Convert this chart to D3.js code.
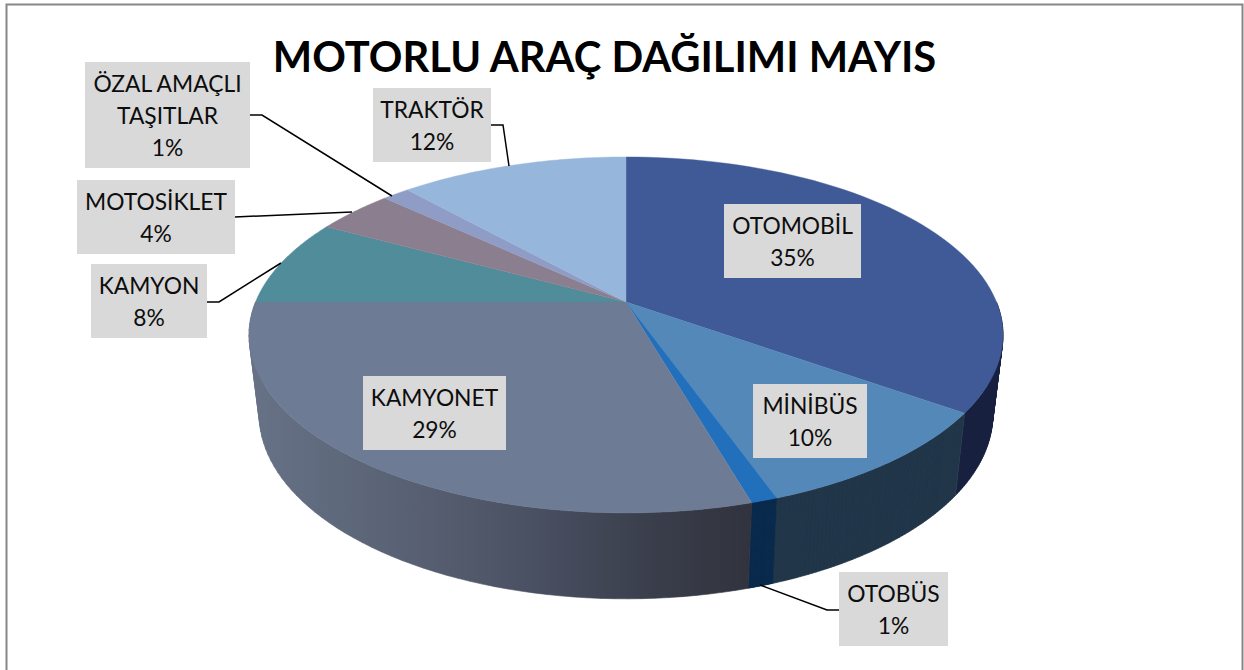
<!DOCTYPE html>
<html><head><meta charset="utf-8">
<script src="https://cdn.jsdelivr.net/npm/d3@7/dist/d3.min.js"></script>
<style>html,body{margin:0;padding:0;background:#fff;overflow:hidden}svg{display:block}text{font-family:Lato,Carlito,sans-serif}</style>
</head><body><svg id="c" width="1244" height="670"></svg>
<script>
const title = "MOTORLU ARAÇ DAĞILIMI MAYIS";
const categories = ["OTOMOBİL","MİNİBÜS","OTOBÜS","KAMYONET","KAMYON","MOTOSİKLET","ÖZAL AMAÇLI TAŞITLAR","TRAKTÖR"];
const percentLabels = [35,10,1,29,8,4,1,12];
const sliceShares = [34.8,9.75,0.95,29.5,7.9,4.0,1.4,11.7];
const topColors = ["#3f5a97","#5388b8","#2270bc","#6d7b94","#508c9a","#8b7e8f","#8f9cc6","#97b6db"];
const wallColors = ["#18223f","#213649","#0b2c4e",null];

// layout
const labelLayout = [
 {lines:["OTOMOBİL"],x:724,y:204,w:137,h:74},
 {lines:["MİNİBÜS"],x:753,y:384,w:114,h:74},
 {lines:["OTOBÜS"],x:839,y:572,w:109,h:74},
 {lines:["KAMYONET"],x:363,y:376,w:143,h:74},
 {lines:["KAMYON"],x:91,y:264,w:116,h:74},
 {lines:["MOTOSİKLET"],x:77,y:180,w:158,h:74},
 {lines:["ÖZAL AMAÇLI","TAŞITLAR"],x:85,y:62,w:165,h:106},
 {lines:["TRAKTÖR"],x:373,y:88,w:118,h:74}
];
const leaders = [
 [[839,610],[827,610],[760,585]],
 [[207,302],[219,302],[281,263]],
 [[235,217],[352,212]],
 [[250,115],[262,115],[392,196]],
 [[491,125],[503,125],[509,166]]
];

const svg = d3.select("#c");
const cx=626, cy=302, B=370.5, A=171.9, k=0.185;
const top3d = a => {
  const u=Math.sin(a), v=Math.cos(a), d=1+k*v;
  return [cx+B*u/d, cy-A*v/d];
};
const bot3d = a => {
  const [x,y]=top3d(a);
  return [cx+(x-cx)*0.973, y+79.5+0.036*(y-335)];
};
const arcPts = (f,a0,a1) => d3.range(0,61).map(i=>f(a0+(a1-a0)*i/60));
const line = d3.line();
const pie = d3.pie().sort(null).value(d=>d)(sliceShares);

// frame
svg.append("rect").attr("x",6.5).attr("y",4.5).attr("width",1236).attr("height",680)
  .attr("fill","#fff").attr("stroke","#868686").attr("stroke-width",2);

// wall gradient
const defs=svg.append("defs");
const grad=defs.append("linearGradient").attr("id","wall").attr("gradientUnits","userSpaceOnUse")
  .attr("x1",250).attr("x2",755).attr("y1",0).attr("y2",0);
[[0,"#677287"],[0.3,"#596274"],[0.55,"#4a5163"],[0.8,"#3a3e4b"],[1,"#30333d"]].forEach(s=>
  grad.append("stop").attr("offset",s[0]).attr("stop-color",s[1]));

// side walls (front half only): one path of same-wound strips so the silhouette edge is covered without seams
const g=svg.append("g");
pie.forEach((p,i)=>{
  const a0=Math.max(p.startAngle,Math.PI/2), a1=Math.min(p.endAngle,Math.PI*1.5);
  if(a1<=a0) return;
  const t=arcPts(top3d,a0,a1), b=arcPts(bot3d,a0,a1);
  const fill=wallColors[i]||"url(#wall)";
  const d=d3.range(60).map(j=>{
    const q=[t[j],t[j+1],b[j+1],b[j]];
    if(d3.polygonArea(q)<0) q.reverse();
    return line(q)+"Z";
  }).join("");
  g.append("path").attr("d",d).attr("fill",fill).attr("stroke",fill).attr("stroke-width",0.6);
});
// top surface
pie.forEach((p,i)=>{
  const pts=[[cx,cy]].concat(arcPts(top3d,p.startAngle,p.endAngle));
  g.append("path").attr("d",line(pts)+"Z").attr("fill",topColors[i])
    .attr("stroke",topColors[i]).attr("stroke-width",0.4);
});

// leaders
leaders.forEach(l=>svg.append("path").attr("d",line(l)).attr("fill","none")
  .attr("stroke","#000").attr("stroke-width",1.5));

// labels
labelLayout.forEach((b,i)=>{
  const lg=svg.append("g");
  lg.append("rect").attr("x",b.x).attr("y",b.y).attr("width",b.w).attr("height",b.h).attr("fill","#d9d9d9");
  const ls=b.lines.concat([percentLabels[i]+"%"]);
  ls.forEach((t,j)=>lg.append("text").attr("x",b.x+b.w/2).attr("y",b.y+30+j*32.2)
    .attr("text-anchor","middle").attr("font-size",22.8).attr("fill","#0d0d0d").text(t));
});

// title
svg.append("text").attr("x",604.5).attr("y",72).attr("text-anchor","middle")
  .attr("font-size",41.7).attr("font-weight",700).attr("fill","#000").text(title);
</script></body></html>
